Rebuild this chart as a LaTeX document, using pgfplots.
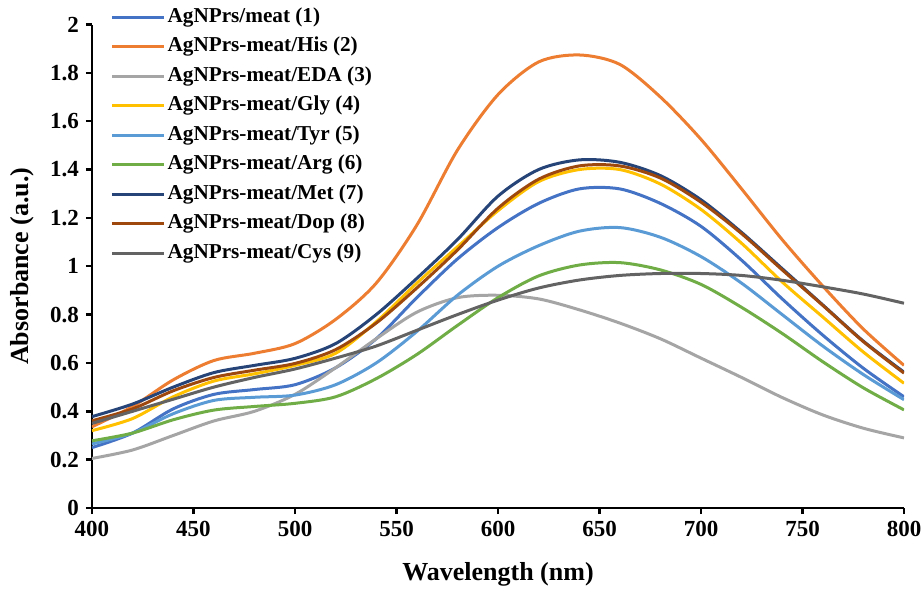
\documentclass[border=0pt]{standalone}
\usepackage{fontspec}
\setmainfont{Liberation Serif}
\usepackage{pgfplots}
\pgfplotsset{compat=1.18}
\definecolor{cMeat}{HTML}{4472C4}
\definecolor{cHis}{HTML}{ED7D31}
\definecolor{cEDA}{HTML}{A5A5A5}
\definecolor{cGly}{HTML}{FFC000}
\definecolor{cTyr}{HTML}{5B9BD5}
\definecolor{cArg}{HTML}{70AD47}
\definecolor{cMet}{HTML}{264478}
\definecolor{cDop}{HTML}{9E480E}
\definecolor{cCys}{HTML}{636363}
\begin{document}
\begin{tikzpicture}
\begin{axis}[
  scale only axis,
  width=406pt, height=241.75pt,
  xmin=400, xmax=800, ymin=0, ymax=2,
  xtick={400,450,...,800},
  ytick={0,0.2,...,2.01},
  axis x line*=bottom, axis y line*=left,
  axis line style={-, line width=1.4pt},
  tick align=outside,
  major tick length=3pt,
  tick style={line width=1.2pt, black},
  /pgf/number format/assume math mode=true,
  ticklabel style={font=\fontsize{11.5}{13}\selectfont\bfseries},
  yticklabel style={/pgf/number format/.cd, fixed, precision=1},
  xticklabel style={/pgf/number format/.cd, fixed, 1000 sep={}},
  xlabel={Wavelength (nm)},
  ylabel={Absorbance (a.u.)},
  label style={font=\fontsize{13}{15}\selectfont\bfseries},
  xlabel style={at={(axis description cs:0.5,-0.1365)}, anchor=center},
  ylabel style={at={(axis description cs:-0.0862,0.5)}, anchor=center, rotate=0},
  legend image code/.code={\draw[#1, line width=1.5pt] (0pt,0pt) -- (26pt,0pt);},
  legend style={draw=none, fill=none, at={(axis description cs:0.022,1.041)}, anchor=north west,
    font=\fontsize{10.6}{12}\selectfont\bfseries, inner sep=0pt, row sep=2.55pt,
    nodes={inner sep=1.2pt, text height=7.4pt, text depth=2.4pt}},
  legend cell align=left,
  every axis plot/.append style={line width=1.5pt, smooth, no marks},
]
% (1) meat
\addplot[cMeat] coordinates {(400,0.25) (420,0.31) (440,0.41) (460,0.47) (480,0.49) (500,0.51) (520,0.58) (540,0.70) (560,0.87) (580,1.03) (600,1.16) (620,1.26) (640,1.32) (660,1.32) (680,1.26) (700,1.165) (720,1.025) (740,0.865) (760,0.715) (780,0.578) (800,0.46)};
\addlegendentry{AgNPrs/meat (1)}
% (2) His
\addplot[cHis] coordinates {(400,0.336) (420,0.42) (440,0.53) (460,0.61) (480,0.64) (500,0.68) (520,0.78) (540,0.93) (560,1.17) (580,1.48) (600,1.71) (620,1.845) (640,1.874) (660,1.835) (680,1.70) (700,1.525) (720,1.32) (740,1.11) (760,0.918) (780,0.74) (800,0.59)};
\addlegendentry{AgNPrs-meat/His (2)}
% (3) EDA
\addplot[cEDA] coordinates {(400,0.205) (420,0.24) (440,0.30) (460,0.36) (480,0.40) (500,0.47) (520,0.58) (540,0.70) (560,0.81) (580,0.87) (600,0.88) (620,0.865) (640,0.82) (660,0.765) (680,0.70) (700,0.62) (720,0.54) (740,0.457) (760,0.385) (780,0.33) (800,0.29)};
\addlegendentry{AgNPrs-meat/EDA (3)}
% (4) Gly
\addplot[cGly] coordinates {(400,0.32) (420,0.37) (440,0.46) (460,0.525) (480,0.555) (500,0.59) (520,0.64) (540,0.77) (560,0.93) (580,1.08) (600,1.23) (620,1.35) (640,1.40) (660,1.40) (680,1.34) (700,1.235) (720,1.095) (740,0.935) (760,0.79) (780,0.645) (800,0.516)};
\addlegendentry{AgNPrs-meat/Gly (4)}
% (5) Tyr
\addplot[cTyr] coordinates {(400,0.265) (420,0.31) (440,0.39) (460,0.445) (480,0.458) (500,0.467) (520,0.51) (540,0.60) (560,0.73) (580,0.88) (600,1.00) (620,1.085) (640,1.145) (660,1.16) (680,1.12) (700,1.04) (720,0.93) (740,0.80) (760,0.67) (780,0.552) (800,0.448)};
\addlegendentry{AgNPrs-meat/Tyr (5)}
% (6) Arg
\addplot[cArg] coordinates {(400,0.278) (420,0.31) (440,0.365) (460,0.405) (480,0.42) (500,0.433) (520,0.46) (540,0.535) (560,0.635) (580,0.755) (600,0.87) (620,0.96) (640,1.005) (660,1.015) (680,0.985) (700,0.925) (720,0.83) (740,0.722) (760,0.605) (780,0.497) (800,0.406)};
\addlegendentry{AgNPrs-meat/Arg (6)}
% (7) Met
\addplot[cMet] coordinates {(400,0.378) (420,0.43) (440,0.50) (460,0.56) (480,0.59) (500,0.619) (520,0.68) (540,0.80) (560,0.95) (580,1.11) (600,1.29) (620,1.40) (640,1.44) (660,1.43) (680,1.375) (700,1.275) (720,1.14) (740,0.99) (760,0.84) (780,0.69) (800,0.562)};
\addlegendentry{AgNPrs-meat/Met (7)}
% (8) Dop
\addplot[cDop] coordinates {(400,0.361) (420,0.41) (440,0.485) (460,0.54) (480,0.57) (500,0.598) (520,0.655) (540,0.765) (560,0.91) (580,1.067) (600,1.24) (620,1.36) (640,1.415) (660,1.415) (680,1.365) (700,1.265) (720,1.135) (740,0.985) (760,0.838) (780,0.688) (800,0.558)};
\addlegendentry{AgNPrs-meat/Dop (8)}
% (9) Cys
\addplot[cCys] coordinates {(400,0.35) (420,0.40) (440,0.45) (460,0.50) (480,0.54) (500,0.575) (520,0.62) (540,0.67) (560,0.735) (580,0.80) (600,0.86) (620,0.91) (640,0.943) (660,0.962) (680,0.97) (700,0.97) (720,0.962) (740,0.942) (760,0.915) (780,0.885) (800,0.847)};
\addlegendentry{AgNPrs-meat/Cys (9)}
\end{axis}
\pgfresetboundingbox
\path[use as bounding box] (-46pt,-41.5pt) rectangle (415pt,254pt);
\end{tikzpicture}
\end{document}
